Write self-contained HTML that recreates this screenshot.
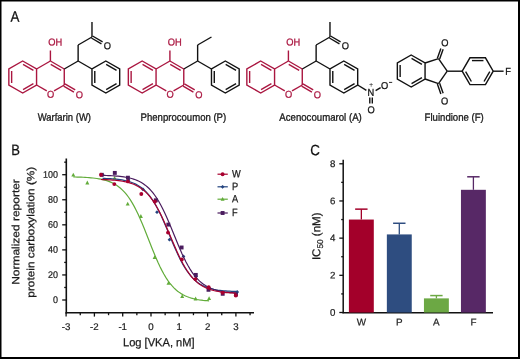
<!DOCTYPE html>
<html><head><meta charset="utf-8"><style>
html,body{margin:0;padding:0;background:#fff;width:520px;height:359px;overflow:hidden}
svg{display:block;transform:translateZ(0)}
text{font-family:"Liberation Sans", sans-serif;stroke-width:0.2px;paint-order:stroke}
</style></head><body>
<svg width="520" height="359" viewBox="0 0 520 359">

<rect x="0" y="0" width="1.5" height="359" fill="#000"/>
<rect x="0" y="0" width="520" height="1.5" fill="#000"/>
<rect x="518" y="0" width="2" height="359" fill="#000"/>
<rect x="0" y="357" width="520" height="2" fill="#000"/>
<text transform="translate(10.5,21.75) scale(0.88,1) rotate(0.05)" font-size="15.2" style="fill:#111;stroke:#111;stroke-width:0.25px">A</text>
<text transform="translate(11.2,155.1) scale(0.87,1) rotate(0.05)" font-size="15.0" style="fill:#111;stroke:#111;stroke-width:0.25px">B</text>
<text transform="translate(310.2,155.3) scale(0.89,1) rotate(0.05)" font-size="15.0" style="fill:#111;stroke:#111;stroke-width:0.25px">C</text>
<g stroke-linecap="butt">
<polygon points="22.70,61.00 36.56,69.00 36.56,85.00 22.70,93.00 8.84,85.00 8.84,69.00" fill="none" stroke="#aa1640" stroke-width="1.4" stroke-linejoin="miter"/>
<line x1="23.03" y1="64.42" x2="33.42" y2="70.42" stroke="#aa1640" stroke-width="1.4"/>
<line x1="11.64" y1="83.00" x2="11.64" y2="71.00" stroke="#aa1640" stroke-width="1.4"/>
<line x1="23.03" y1="89.58" x2="33.42" y2="83.58" stroke="#aa1640" stroke-width="1.4"/>
<line x1="36.56" y1="69.00" x2="50.41" y2="61.00" stroke="#aa1640" stroke-width="1.4"/>
<line x1="50.41" y1="61.00" x2="64.27" y2="69.00" stroke="#aa1640" stroke-width="1.4"/>
<line x1="50.74" y1="64.42" x2="61.14" y2="70.42" stroke="#aa1640" stroke-width="1.4"/>
<line x1="64.27" y1="69.00" x2="64.27" y2="85.00" stroke="#aa1640" stroke-width="1.4"/>
<line x1="64.27" y1="85.00" x2="54.05" y2="90.90" stroke="#aa1640" stroke-width="1.4"/>
<line x1="36.56" y1="85.00" x2="46.78" y2="90.90" stroke="#aa1640" stroke-width="1.4"/>
<line x1="50.41" y1="61.00" x2="50.41" y2="50.50" stroke="#aa1640" stroke-width="1.4"/>
<text transform="translate(55.11,42.10) scale(0.93,1) rotate(0.05)" x="-7.33" y="3.44" font-size="10.0" fill="#aa1640" stroke="#aa1640" style="stroke-width:0.3px">OH</text>
<text transform="translate(50.61,94.20) scale(0.93,1) rotate(0.05)" x="-3.89" y="3.44" font-size="10.0" fill="#aa1640" stroke="#aa1640" style="stroke-width:0.3px">O</text>
<line x1="63.62" y1="86.13" x2="73.92" y2="92.08" stroke="#aa1640" stroke-width="1.4"/>
<line x1="64.92" y1="83.87" x2="75.22" y2="89.82" stroke="#aa1640" stroke-width="1.4"/>
<text transform="translate(79.33,94.75) scale(0.93,1) rotate(0.05)" x="-3.89" y="3.44" font-size="10.0" fill="#aa1640" stroke="#aa1640" style="stroke-width:0.3px">O</text>
<line x1="64.27" y1="69.00" x2="78.13" y2="61.00" stroke="#111111" stroke-width="1.4"/>
<line x1="78.13" y1="61.00" x2="91.98" y2="69.00" stroke="#111111" stroke-width="1.4"/>
<polygon points="105.84,61.00 119.69,69.00 119.69,85.00 105.84,93.00 91.98,85.00 91.98,69.00" fill="none" stroke="#111111" stroke-width="1.4" stroke-linejoin="miter"/>
<line x1="106.17" y1="64.42" x2="116.56" y2="70.42" stroke="#111111" stroke-width="1.4"/>
<line x1="94.78" y1="83.00" x2="94.78" y2="71.00" stroke="#111111" stroke-width="1.4"/>
<line x1="106.17" y1="89.58" x2="116.56" y2="83.58" stroke="#111111" stroke-width="1.4"/>
<line x1="78.13" y1="61.00" x2="78.13" y2="45.00" stroke="#111111" stroke-width="1.4"/>
<line x1="78.13" y1="45.00" x2="91.98" y2="37.00" stroke="#111111" stroke-width="1.4"/>
<line x1="91.98" y1="37.00" x2="91.98" y2="22.00" stroke="#111111" stroke-width="1.4"/>
<line x1="91.41" y1="38.00" x2="101.45" y2="43.80" stroke="#111111" stroke-width="1.4"/>
<line x1="92.56" y1="36.00" x2="102.60" y2="41.80" stroke="#111111" stroke-width="1.4"/>
<text transform="translate(107.44,45.75) scale(0.93,1) rotate(0.05)" x="-3.89" y="3.44" font-size="10.0" fill="#111111" stroke="#111111" style="stroke-width:0.3px">O</text>
<polygon points="142.20,61.00 156.06,69.00 156.06,85.00 142.20,93.00 128.34,85.00 128.34,69.00" fill="none" stroke="#aa1640" stroke-width="1.4" stroke-linejoin="miter"/>
<line x1="142.53" y1="64.42" x2="152.92" y2="70.42" stroke="#aa1640" stroke-width="1.4"/>
<line x1="131.14" y1="83.00" x2="131.14" y2="71.00" stroke="#aa1640" stroke-width="1.4"/>
<line x1="142.53" y1="89.58" x2="152.92" y2="83.58" stroke="#aa1640" stroke-width="1.4"/>
<line x1="156.06" y1="69.00" x2="169.91" y2="61.00" stroke="#aa1640" stroke-width="1.4"/>
<line x1="169.91" y1="61.00" x2="183.77" y2="69.00" stroke="#aa1640" stroke-width="1.4"/>
<line x1="170.24" y1="64.42" x2="180.64" y2="70.42" stroke="#aa1640" stroke-width="1.4"/>
<line x1="183.77" y1="69.00" x2="183.77" y2="85.00" stroke="#aa1640" stroke-width="1.4"/>
<line x1="183.77" y1="85.00" x2="173.55" y2="90.90" stroke="#aa1640" stroke-width="1.4"/>
<line x1="156.06" y1="85.00" x2="166.28" y2="90.90" stroke="#aa1640" stroke-width="1.4"/>
<line x1="169.91" y1="61.00" x2="169.91" y2="50.50" stroke="#aa1640" stroke-width="1.4"/>
<text transform="translate(174.61,42.10) scale(0.93,1) rotate(0.05)" x="-7.33" y="3.44" font-size="10.0" fill="#aa1640" stroke="#aa1640" style="stroke-width:0.3px">OH</text>
<text transform="translate(170.11,94.20) scale(0.93,1) rotate(0.05)" x="-3.89" y="3.44" font-size="10.0" fill="#aa1640" stroke="#aa1640" style="stroke-width:0.3px">O</text>
<line x1="183.12" y1="86.13" x2="193.42" y2="92.08" stroke="#aa1640" stroke-width="1.4"/>
<line x1="184.42" y1="83.87" x2="194.72" y2="89.82" stroke="#aa1640" stroke-width="1.4"/>
<text transform="translate(198.83,94.75) scale(0.93,1) rotate(0.05)" x="-3.89" y="3.44" font-size="10.0" fill="#aa1640" stroke="#aa1640" style="stroke-width:0.3px">O</text>
<line x1="183.77" y1="69.00" x2="197.63" y2="61.00" stroke="#111111" stroke-width="1.4"/>
<line x1="197.63" y1="61.00" x2="211.48" y2="69.00" stroke="#111111" stroke-width="1.4"/>
<polygon points="225.34,61.00 239.19,69.00 239.19,85.00 225.34,93.00 211.48,85.00 211.48,69.00" fill="none" stroke="#111111" stroke-width="1.4" stroke-linejoin="miter"/>
<line x1="225.67" y1="64.42" x2="236.06" y2="70.42" stroke="#111111" stroke-width="1.4"/>
<line x1="214.28" y1="83.00" x2="214.28" y2="71.00" stroke="#111111" stroke-width="1.4"/>
<line x1="225.67" y1="89.58" x2="236.06" y2="83.58" stroke="#111111" stroke-width="1.4"/>
<line x1="197.63" y1="61.00" x2="197.63" y2="45.00" stroke="#111111" stroke-width="1.4"/>
<line x1="197.63" y1="45.00" x2="211.48" y2="37.00" stroke="#111111" stroke-width="1.4"/>
<polygon points="260.70,61.00 274.56,69.00 274.56,85.00 260.70,93.00 246.84,85.00 246.84,69.00" fill="none" stroke="#aa1640" stroke-width="1.4" stroke-linejoin="miter"/>
<line x1="261.03" y1="64.42" x2="271.42" y2="70.42" stroke="#aa1640" stroke-width="1.4"/>
<line x1="249.64" y1="83.00" x2="249.64" y2="71.00" stroke="#aa1640" stroke-width="1.4"/>
<line x1="261.03" y1="89.58" x2="271.42" y2="83.58" stroke="#aa1640" stroke-width="1.4"/>
<line x1="274.56" y1="69.00" x2="288.41" y2="61.00" stroke="#aa1640" stroke-width="1.4"/>
<line x1="288.41" y1="61.00" x2="302.27" y2="69.00" stroke="#aa1640" stroke-width="1.4"/>
<line x1="288.74" y1="64.42" x2="299.14" y2="70.42" stroke="#aa1640" stroke-width="1.4"/>
<line x1="302.27" y1="69.00" x2="302.27" y2="85.00" stroke="#aa1640" stroke-width="1.4"/>
<line x1="302.27" y1="85.00" x2="292.05" y2="90.90" stroke="#aa1640" stroke-width="1.4"/>
<line x1="274.56" y1="85.00" x2="284.78" y2="90.90" stroke="#aa1640" stroke-width="1.4"/>
<line x1="288.41" y1="61.00" x2="288.41" y2="50.50" stroke="#aa1640" stroke-width="1.4"/>
<text transform="translate(293.11,42.10) scale(0.93,1) rotate(0.05)" x="-7.33" y="3.44" font-size="10.0" fill="#aa1640" stroke="#aa1640" style="stroke-width:0.3px">OH</text>
<text transform="translate(288.61,94.20) scale(0.93,1) rotate(0.05)" x="-3.89" y="3.44" font-size="10.0" fill="#aa1640" stroke="#aa1640" style="stroke-width:0.3px">O</text>
<line x1="301.62" y1="86.13" x2="311.92" y2="92.08" stroke="#aa1640" stroke-width="1.4"/>
<line x1="302.92" y1="83.87" x2="313.22" y2="89.82" stroke="#aa1640" stroke-width="1.4"/>
<text transform="translate(317.33,94.75) scale(0.93,1) rotate(0.05)" x="-3.89" y="3.44" font-size="10.0" fill="#aa1640" stroke="#aa1640" style="stroke-width:0.3px">O</text>
<line x1="302.27" y1="69.00" x2="316.13" y2="61.00" stroke="#111111" stroke-width="1.4"/>
<line x1="316.13" y1="61.00" x2="329.98" y2="69.00" stroke="#111111" stroke-width="1.4"/>
<polygon points="343.84,61.00 357.69,69.00 357.69,85.00 343.84,93.00 329.98,85.00 329.98,69.00" fill="none" stroke="#111111" stroke-width="1.4" stroke-linejoin="miter"/>
<line x1="344.17" y1="64.42" x2="354.56" y2="70.42" stroke="#111111" stroke-width="1.4"/>
<line x1="332.78" y1="83.00" x2="332.78" y2="71.00" stroke="#111111" stroke-width="1.4"/>
<line x1="344.17" y1="89.58" x2="354.56" y2="83.58" stroke="#111111" stroke-width="1.4"/>
<line x1="316.13" y1="61.00" x2="316.13" y2="45.00" stroke="#111111" stroke-width="1.4"/>
<line x1="316.13" y1="45.00" x2="329.98" y2="37.00" stroke="#111111" stroke-width="1.4"/>
<line x1="329.98" y1="37.00" x2="329.98" y2="22.00" stroke="#111111" stroke-width="1.4"/>
<line x1="329.41" y1="38.00" x2="339.45" y2="43.80" stroke="#111111" stroke-width="1.4"/>
<line x1="330.56" y1="36.00" x2="340.60" y2="41.80" stroke="#111111" stroke-width="1.4"/>
<text transform="translate(345.44,45.75) scale(0.93,1) rotate(0.05)" x="-3.89" y="3.44" font-size="10.0" fill="#111111" stroke="#111111" style="stroke-width:0.3px">O</text>
<line x1="357.69" y1="85.00" x2="366.40" y2="90.30" stroke="#111111" stroke-width="1.4"/>
<text transform="translate(370.90,92.20) scale(0.93,1) rotate(0.05)" x="-3.61" y="3.44" font-size="10.0" fill="#111111" stroke="#111111" style="stroke-width:0.3px">N</text>
<text transform="translate(371.10,84.90) scale(1,1) rotate(0.05)" x="-2.10" y="2.39" font-size="7.2" fill="#111111" stroke="#111111" style="stroke-width:0">+</text>
<line x1="375.60" y1="90.70" x2="380.60" y2="87.60" stroke="#111111" stroke-width="1.4"/>
<text transform="translate(384.60,85.50) scale(0.93,1) rotate(0.05)" x="-3.89" y="3.44" font-size="10.0" fill="#111111" stroke="#111111" style="stroke-width:0.3px">O</text>
<line x1="389.00" y1="82.40" x2="392.20" y2="82.40" stroke="#111111" stroke-width="0.9"/>
<line x1="369.80" y1="97.50" x2="369.80" y2="103.60" stroke="#111111" stroke-width="1.4"/>
<line x1="372.30" y1="97.50" x2="372.30" y2="103.60" stroke="#111111" stroke-width="1.4"/>
<text transform="translate(371.05,109.70) scale(0.93,1) rotate(0.05)" x="-3.89" y="3.44" font-size="10.0" fill="#111111" stroke="#111111" style="stroke-width:0.3px">O</text>
<polygon points="411.20,55.00 425.06,63.00 425.06,79.00 411.20,87.00 397.34,79.00 397.34,63.00" fill="none" stroke="#111111" stroke-width="1.4" stroke-linejoin="miter"/>
<line x1="411.53" y1="58.42" x2="421.92" y2="64.42" stroke="#111111" stroke-width="1.4"/>
<line x1="400.14" y1="77.00" x2="400.14" y2="65.00" stroke="#111111" stroke-width="1.4"/>
<line x1="411.53" y1="83.58" x2="421.92" y2="77.58" stroke="#111111" stroke-width="1.4"/>
<line x1="425.06" y1="63.00" x2="438.50" y2="58.60" stroke="#111111" stroke-width="1.4"/>
<line x1="438.50" y1="58.60" x2="447.20" y2="71.20" stroke="#111111" stroke-width="1.4"/>
<line x1="447.20" y1="71.20" x2="438.50" y2="83.60" stroke="#111111" stroke-width="1.4"/>
<line x1="438.50" y1="83.60" x2="425.06" y2="79.00" stroke="#111111" stroke-width="1.4"/>
<line x1="439.63" y1="59.00" x2="443.13" y2="49.20" stroke="#111111" stroke-width="1.4"/>
<line x1="437.37" y1="58.20" x2="440.87" y2="48.40" stroke="#111111" stroke-width="1.4"/>
<line x1="437.37" y1="84.00" x2="440.87" y2="94.00" stroke="#111111" stroke-width="1.4"/>
<line x1="439.63" y1="83.20" x2="443.13" y2="93.20" stroke="#111111" stroke-width="1.4"/>
<text transform="translate(444.90,42.85) scale(0.93,1) rotate(0.05)" x="-3.89" y="3.44" font-size="10.0" fill="#111111" stroke="#111111" style="stroke-width:0.3px">O</text>
<text transform="translate(444.70,101.00) scale(0.93,1) rotate(0.05)" x="-3.89" y="3.44" font-size="10.0" fill="#111111" stroke="#111111" style="stroke-width:0.3px">O</text>
<line x1="447.20" y1="71.20" x2="462.20" y2="71.20" stroke="#111111" stroke-width="1.4"/>
<polygon points="462.20,71.20 469.95,57.78 485.45,57.78 493.20,71.20 485.45,84.62 469.95,84.62" fill="none" stroke="#111111" stroke-width="1.4" stroke-linejoin="miter"/>
<line x1="471.95" y1="60.58" x2="483.45" y2="60.58" stroke="#111111" stroke-width="1.4"/>
<line x1="465.62" y1="71.53" x2="471.37" y2="81.49" stroke="#111111" stroke-width="1.4"/>
<line x1="489.78" y1="71.53" x2="484.03" y2="81.49" stroke="#111111" stroke-width="1.4"/>
<line x1="493.20" y1="71.20" x2="503.60" y2="71.20" stroke="#111111" stroke-width="1.4"/>
<text transform="translate(508.30,71.30) scale(0.93,1) rotate(0.05)" x="-3.26" y="3.44" font-size="10.0" fill="#111111" stroke="#111111" style="stroke-width:0.3px">F</text>
<text x="37.70" y="120.7" font-size="10.6" fill="#1a1a1a" stroke="#1a1a1a" style="stroke-width:0.32px" textLength="53.30" lengthAdjust="spacingAndGlyphs" transform="rotate(0.05 37.70 120.7)">Warfarin (W)</text>
<text x="140.60" y="120.7" font-size="10.6" fill="#1a1a1a" stroke="#1a1a1a" style="stroke-width:0.32px" textLength="85.60" lengthAdjust="spacingAndGlyphs" transform="rotate(0.05 140.60 120.7)">Phenprocoumon (P)</text>
<text x="279.30" y="120.7" font-size="10.6" fill="#1a1a1a" stroke="#1a1a1a" style="stroke-width:0.32px" textLength="82.50" lengthAdjust="spacingAndGlyphs" transform="rotate(0.05 279.30 120.7)">Acenocoumarol (A)</text>
<text x="424.60" y="120.7" font-size="10.6" fill="#1a1a1a" stroke="#1a1a1a" style="stroke-width:0.32px" textLength="59.20" lengthAdjust="spacingAndGlyphs" transform="rotate(0.05 424.60 120.7)">Fluindione (F)</text>
</g>
<line x1="66.30" y1="158.50" x2="66.30" y2="313.50" stroke="#111" stroke-width="1.6"/>
<line x1="65.50" y1="312.80" x2="254.00" y2="312.80" stroke="#111" stroke-width="1.6"/>
<line x1="62.20" y1="300.00" x2="66.30" y2="300.00" stroke="#111" stroke-width="1.3"/>
<line x1="64.20" y1="287.47" x2="66.30" y2="287.47" stroke="#111" stroke-width="1.3"/>
<line x1="62.20" y1="274.94" x2="66.30" y2="274.94" stroke="#111" stroke-width="1.3"/>
<line x1="64.20" y1="262.41" x2="66.30" y2="262.41" stroke="#111" stroke-width="1.3"/>
<line x1="62.20" y1="249.88" x2="66.30" y2="249.88" stroke="#111" stroke-width="1.3"/>
<line x1="64.20" y1="237.35" x2="66.30" y2="237.35" stroke="#111" stroke-width="1.3"/>
<line x1="62.20" y1="224.82" x2="66.30" y2="224.82" stroke="#111" stroke-width="1.3"/>
<line x1="64.20" y1="212.29" x2="66.30" y2="212.29" stroke="#111" stroke-width="1.3"/>
<line x1="62.20" y1="199.76" x2="66.30" y2="199.76" stroke="#111" stroke-width="1.3"/>
<line x1="64.20" y1="187.23" x2="66.30" y2="187.23" stroke="#111" stroke-width="1.3"/>
<line x1="62.20" y1="174.70" x2="66.30" y2="174.70" stroke="#111" stroke-width="1.3"/>
<line x1="64.20" y1="162.17" x2="66.30" y2="162.17" stroke="#111" stroke-width="1.3"/>
<line x1="66.10" y1="312.80" x2="66.10" y2="316.60" stroke="#111" stroke-width="1.3"/>
<line x1="80.25" y1="312.80" x2="80.25" y2="315.20" stroke="#111" stroke-width="1.3"/>
<line x1="94.40" y1="312.80" x2="94.40" y2="316.60" stroke="#111" stroke-width="1.3"/>
<line x1="108.55" y1="312.80" x2="108.55" y2="315.20" stroke="#111" stroke-width="1.3"/>
<line x1="122.70" y1="312.80" x2="122.70" y2="316.60" stroke="#111" stroke-width="1.3"/>
<line x1="136.85" y1="312.80" x2="136.85" y2="315.20" stroke="#111" stroke-width="1.3"/>
<line x1="151.00" y1="312.80" x2="151.00" y2="316.60" stroke="#111" stroke-width="1.3"/>
<line x1="165.15" y1="312.80" x2="165.15" y2="315.20" stroke="#111" stroke-width="1.3"/>
<line x1="179.30" y1="312.80" x2="179.30" y2="316.60" stroke="#111" stroke-width="1.3"/>
<line x1="193.45" y1="312.80" x2="193.45" y2="315.20" stroke="#111" stroke-width="1.3"/>
<line x1="207.60" y1="312.80" x2="207.60" y2="316.60" stroke="#111" stroke-width="1.3"/>
<line x1="221.75" y1="312.80" x2="221.75" y2="315.20" stroke="#111" stroke-width="1.3"/>
<line x1="235.90" y1="312.80" x2="235.90" y2="316.60" stroke="#111" stroke-width="1.3"/>
<line x1="250.05" y1="312.80" x2="250.05" y2="315.20" stroke="#111" stroke-width="1.3"/>
<text x="58.0" y="303.00" font-size="9.6" fill="#222" stroke="#222" text-anchor="end" textLength="4.98" lengthAdjust="spacingAndGlyphs" style="stroke-width:0.22px" transform="rotate(0.05 58.0 303.00)">0</text>
<text x="58.0" y="277.94" font-size="9.6" fill="#222" stroke="#222" text-anchor="end" textLength="9.96" lengthAdjust="spacingAndGlyphs" style="stroke-width:0.22px" transform="rotate(0.05 58.0 277.94)">20</text>
<text x="58.0" y="252.88" font-size="9.6" fill="#222" stroke="#222" text-anchor="end" textLength="9.96" lengthAdjust="spacingAndGlyphs" style="stroke-width:0.22px" transform="rotate(0.05 58.0 252.88)">40</text>
<text x="58.0" y="227.82" font-size="9.6" fill="#222" stroke="#222" text-anchor="end" textLength="9.96" lengthAdjust="spacingAndGlyphs" style="stroke-width:0.22px" transform="rotate(0.05 58.0 227.82)">60</text>
<text x="58.0" y="202.76" font-size="9.6" fill="#222" stroke="#222" text-anchor="end" textLength="9.96" lengthAdjust="spacingAndGlyphs" style="stroke-width:0.22px" transform="rotate(0.05 58.0 202.76)">80</text>
<text x="58.0" y="177.70" font-size="9.6" fill="#222" stroke="#222" text-anchor="end" textLength="14.94" lengthAdjust="spacingAndGlyphs" style="stroke-width:0.22px" transform="rotate(0.05 58.0 177.70)">100</text>
<text x="66.10" y="330.0" font-size="9.7" fill="#222" stroke="#222" text-anchor="middle" style="stroke-width:0.22px" transform="rotate(0.05 66.10 330.0)">-3</text>
<text x="94.40" y="330.0" font-size="9.7" fill="#222" stroke="#222" text-anchor="middle" style="stroke-width:0.22px" transform="rotate(0.05 94.40 330.0)">-2</text>
<text x="122.70" y="330.0" font-size="9.7" fill="#222" stroke="#222" text-anchor="middle" style="stroke-width:0.22px" transform="rotate(0.05 122.70 330.0)">-1</text>
<text x="151.00" y="330.0" font-size="9.7" fill="#222" stroke="#222" text-anchor="middle" style="stroke-width:0.22px" transform="rotate(0.05 151.00 330.0)">0</text>
<text x="179.30" y="330.0" font-size="9.7" fill="#222" stroke="#222" text-anchor="middle" style="stroke-width:0.22px" transform="rotate(0.05 179.30 330.0)">1</text>
<text x="207.60" y="330.0" font-size="9.7" fill="#222" stroke="#222" text-anchor="middle" style="stroke-width:0.22px" transform="rotate(0.05 207.60 330.0)">2</text>
<text x="235.90" y="330.0" font-size="9.7" fill="#222" stroke="#222" text-anchor="middle" style="stroke-width:0.22px" transform="rotate(0.05 235.90 330.0)">3</text>
<text x="123" y="346.2" font-size="11.6" fill="#1a1a1a" stroke="#1a1a1a" style="stroke-width:0.25px" textLength="71.6" lengthAdjust="spacingAndGlyphs" transform="rotate(0.05 123 346.2)">Log [VKA, nM]</text>
<text transform="translate(19.3,232) rotate(-90) rotate(0.05)" x="0" y="0" font-size="10.5" fill="#1a1a1a" stroke="#1a1a1a" text-anchor="middle" style="stroke-width:0.25px" textLength="105.7" lengthAdjust="spacingAndGlyphs">Normalized reporter</text>
<text transform="translate(34.2,232.2) rotate(-90) rotate(0.05)" x="0" y="0" font-size="10.5" fill="#1a1a1a" stroke="#1a1a1a" text-anchor="middle" style="stroke-width:0.25px" textLength="131" lengthAdjust="spacingAndGlyphs">protein carboxylation (%)</text>
<polyline points="73.30,176.94 75.27,176.99 77.24,177.04 79.20,177.10 81.17,177.18 83.14,177.27 85.11,177.37 87.08,177.49 89.04,177.64 91.01,177.80 92.98,178.00 94.95,178.23 96.92,178.50 98.89,178.81 100.85,179.18 102.82,179.60 104.79,180.10 106.76,180.68 108.73,181.35 110.69,182.13 112.66,183.04 114.63,184.08 116.60,185.29 118.57,186.67 120.53,188.25 122.50,190.06 124.47,192.10 126.44,194.41 128.41,197.01 130.38,199.89 132.34,203.09 134.31,206.60 136.28,210.41 138.25,214.51 140.22,218.89 142.18,223.49 144.15,228.29 146.12,233.23 148.09,238.24 150.06,243.26 152.02,248.23 153.99,253.08 155.96,257.77 157.93,262.24 159.90,266.45 161.87,270.38 163.83,274.01 165.80,277.32 167.77,280.33 169.74,283.04 171.71,285.45 173.67,287.60 175.64,289.50 177.61,291.16 179.58,292.62 181.55,293.89 183.51,294.99 185.48,295.95 187.45,296.78 189.42,297.49 191.39,298.11 193.36,298.63 195.32,299.09 197.29,299.48 199.26,299.81 201.23,300.09 203.20,300.34 205.16,300.54 207.13,300.72 209.10,300.87" fill="none" stroke="#62ac3a" stroke-width="1.2"/>
<polygon points="73.30,172.80 75.30,176.60 71.30,176.60" fill="#62ac3a"/>
<polygon points="87.30,180.60 89.30,184.40 85.30,184.40" fill="#62ac3a"/>
<polygon points="114.60,176.00 116.60,179.80 112.60,179.80" fill="#62ac3a"/>
<polygon points="127.70,201.80 129.70,205.60 125.70,205.60" fill="#62ac3a"/>
<polygon points="140.90,214.10 142.90,217.90 138.90,217.90" fill="#62ac3a"/>
<polygon points="154.60,255.30 156.60,259.10 152.60,259.10" fill="#62ac3a"/>
<polygon points="168.50,281.00 170.50,284.80 166.50,284.80" fill="#62ac3a"/>
<polygon points="182.20,294.30 184.20,298.10 180.20,298.10" fill="#62ac3a"/>
<polygon points="195.60,296.60 197.60,300.40 193.60,300.40" fill="#62ac3a"/>
<polygon points="209.10,296.20 211.10,300.00 207.10,300.00" fill="#62ac3a"/>
<polyline points="102.50,178.34 104.46,178.40 106.41,178.49 108.37,178.58 110.33,178.70 112.28,178.83 114.24,178.99 116.20,179.18 118.15,179.39 120.11,179.65 122.07,179.95 124.02,180.31 125.98,180.73 127.93,181.21 129.89,181.78 131.85,182.45 133.80,183.23 135.76,184.13 137.72,185.18 139.67,186.39 141.63,187.78 143.59,189.38 145.54,191.21 147.50,193.28 149.46,195.63 151.41,198.26 153.37,201.18 155.33,204.41 157.28,207.93 159.24,211.75 161.20,215.83 163.15,220.15 165.11,224.65 167.07,229.29 169.02,234.01 170.98,238.74 172.93,243.42 174.89,247.98 176.85,252.37 178.80,256.54 180.76,260.46 182.72,264.10 184.67,267.44 186.63,270.48 188.59,273.22 190.54,275.67 192.50,277.84 194.46,279.76 196.41,281.44 198.37,282.91 200.33,284.19 202.28,285.30 204.24,286.25 206.20,287.07 208.15,287.78 210.11,288.38 212.07,288.90 214.02,289.34 215.98,289.72 217.93,290.04 219.89,290.31 221.85,290.55 223.80,290.74 225.76,290.91 227.72,291.06 229.67,291.18 231.63,291.28 233.59,291.37 235.54,291.44 237.50,291.50" fill="none" stroke="#24447f" stroke-width="1.2"/>
<polygon points="102.50,172.90 104.40,174.80 102.50,176.70 100.60,174.80" fill="#24447f"/>
<polygon points="128.50,178.10 130.40,180.00 128.50,181.90 126.60,180.00" fill="#24447f"/>
<polygon points="143.00,187.50 144.90,189.40 143.00,191.30 141.10,189.40" fill="#24447f"/>
<polygon points="157.00,210.30 158.90,212.20 157.00,214.10 155.10,212.20" fill="#24447f"/>
<polygon points="169.50,237.80 171.40,239.70 169.50,241.60 167.60,239.70" fill="#24447f"/>
<polygon points="183.50,254.50 185.40,256.40 183.50,258.30 181.60,256.40" fill="#24447f"/>
<polygon points="196.00,274.60 197.90,276.50 196.00,278.40 194.10,276.50" fill="#24447f"/>
<polygon points="208.80,286.40 210.70,288.30 208.80,290.20 206.90,288.30" fill="#24447f"/>
<polygon points="222.70,290.10 224.60,292.00 222.70,293.90 220.80,292.00" fill="#24447f"/>
<polygon points="237.20,290.10 239.10,292.00 237.20,293.90 235.30,292.00" fill="#24447f"/>
<polyline points="102.50,175.38 104.44,175.43 106.38,175.50 108.33,175.57 110.27,175.66 112.21,175.77 114.15,175.89 116.09,176.03 118.04,176.20 119.98,176.40 121.92,176.63 123.86,176.90 125.80,177.22 127.75,177.59 129.69,178.02 131.63,178.52 133.57,179.11 135.51,179.79 137.46,180.58 139.40,181.49 141.34,182.54 143.28,183.76 145.22,185.15 147.17,186.74 149.11,188.55 151.05,190.60 152.99,192.91 154.93,195.49 156.88,198.36 158.82,201.53 160.76,204.99 162.70,208.73 164.64,212.75 166.59,217.01 168.53,221.47 170.47,226.10 172.41,230.82 174.36,235.60 176.30,240.35 178.24,245.03 180.18,249.58 182.12,253.94 184.07,258.07 186.01,261.95 187.95,265.55 189.89,268.85 191.83,271.86 193.78,274.58 195.72,277.01 197.66,279.18 199.60,281.10 201.54,282.79 203.49,284.27 205.43,285.57 207.37,286.69 209.31,287.67 211.25,288.52 213.20,289.25 215.14,289.87 217.08,290.41 219.02,290.88 220.96,291.27 222.91,291.61 224.85,291.91 226.79,292.15 228.73,292.37 230.67,292.55 232.62,292.70 234.56,292.84 236.50,292.95" fill="none" stroke="#4a1c5e" stroke-width="1.2"/>
<rect x="99.85" y="172.85" width="3.9" height="3.9" fill="#4a1c5e"/>
<rect x="112.85" y="170.95" width="3.9" height="3.9" fill="#4a1c5e"/>
<rect x="125.95" y="175.75" width="3.9" height="3.9" fill="#4a1c5e"/>
<rect x="153.85" y="198.35" width="3.9" height="3.9" fill="#4a1c5e"/>
<rect x="166.35" y="222.65" width="3.9" height="3.9" fill="#4a1c5e"/>
<rect x="179.65" y="245.55" width="3.9" height="3.9" fill="#4a1c5e"/>
<rect x="193.85" y="272.95" width="3.9" height="3.9" fill="#4a1c5e"/>
<rect x="206.55" y="287.85" width="3.9" height="3.9" fill="#4a1c5e"/>
<rect x="220.75" y="291.85" width="3.9" height="3.9" fill="#4a1c5e"/>
<rect x="234.05" y="292.55" width="3.9" height="3.9" fill="#4a1c5e"/>
<polyline points="101.00,179.49 102.96,179.55 104.91,179.62 106.87,179.71 108.83,179.81 110.78,179.93 112.74,180.07 114.70,180.24 116.65,180.43 118.61,180.66 120.57,180.92 122.52,181.23 124.48,181.59 126.43,182.02 128.39,182.51 130.35,183.09 132.30,183.76 134.26,184.53 136.22,185.43 138.17,186.47 140.13,187.67 142.09,189.05 144.04,190.62 146.00,192.41 147.96,194.44 149.91,196.72 151.87,199.28 153.83,202.12 155.78,205.25 157.74,208.67 159.70,212.36 161.65,216.32 163.61,220.51 165.57,224.89 167.52,229.41 169.48,234.03 171.43,238.68 173.39,243.29 175.35,247.82 177.30,252.20 179.26,256.39 181.22,260.35 183.17,264.05 185.13,267.47 187.09,270.61 189.04,273.45 191.00,276.01 192.96,278.30 194.91,280.33 196.87,282.13 198.83,283.70 200.78,285.08 202.74,286.28 204.70,287.32 206.65,288.23 208.61,289.00 210.57,289.67 212.52,290.25 214.48,290.75 216.43,291.17 218.39,291.53 220.35,291.85 222.30,292.11 224.26,292.34 226.22,292.53 228.17,292.70 230.13,292.84 232.09,292.96 234.04,293.06 236.00,293.14" fill="none" stroke="#a8002f" stroke-width="1.2"/>
<circle cx="101.00" cy="174.80" r="1.95" fill="#a8002f"/>
<circle cx="114.30" cy="184.10" r="1.95" fill="#a8002f"/>
<circle cx="127.90" cy="181.40" r="1.95" fill="#a8002f"/>
<circle cx="141.30" cy="194.00" r="1.95" fill="#a8002f"/>
<circle cx="154.90" cy="201.50" r="1.95" fill="#a8002f"/>
<circle cx="168.00" cy="232.60" r="1.95" fill="#a8002f"/>
<circle cx="181.80" cy="259.40" r="1.95" fill="#a8002f"/>
<circle cx="195.40" cy="279.10" r="1.95" fill="#a8002f"/>
<circle cx="208.70" cy="287.30" r="1.95" fill="#a8002f"/>
<circle cx="222.60" cy="292.80" r="1.95" fill="#a8002f"/>
<circle cx="235.80" cy="295.50" r="1.95" fill="#a8002f"/>
<line x1="217.50" y1="174.20" x2="227.80" y2="174.20" stroke="#a8002f" stroke-width="1.2"/>
<circle cx="222.60" cy="174.20" r="1.95" fill="#a8002f"/>
<text transform="translate(231.9,177.30) scale(0.88,1) rotate(0.05)" font-size="10.5" fill="#1a1a1a" stroke="#1a1a1a" style="stroke-width:0.25px">W</text>
<line x1="217.50" y1="186.80" x2="227.80" y2="186.80" stroke="#24447f" stroke-width="1.2"/>
<polygon points="222.60,184.90 224.50,186.80 222.60,188.70 220.70,186.80" fill="#24447f"/>
<text transform="translate(231.9,189.90) scale(0.88,1) rotate(0.05)" font-size="10.5" fill="#1a1a1a" stroke="#1a1a1a" style="stroke-width:0.25px">P</text>
<line x1="217.50" y1="199.20" x2="227.80" y2="199.20" stroke="#62ac3a" stroke-width="1.2"/>
<polygon points="222.60,197.00 224.60,200.80 220.60,200.80" fill="#62ac3a"/>
<text transform="translate(231.9,202.30) scale(0.88,1) rotate(0.05)" font-size="10.5" fill="#1a1a1a" stroke="#1a1a1a" style="stroke-width:0.25px">A</text>
<line x1="217.50" y1="213.00" x2="227.80" y2="213.00" stroke="#4a1c5e" stroke-width="1.2"/>
<rect x="220.65" y="211.05" width="3.9" height="3.9" fill="#4a1c5e"/>
<text transform="translate(231.9,216.10) scale(0.88,1) rotate(0.05)" font-size="10.5" fill="#1a1a1a" stroke="#1a1a1a" style="stroke-width:0.25px">F</text>
<line x1="343.20" y1="159.80" x2="343.20" y2="313.20" stroke="#111" stroke-width="1.5"/>
<line x1="342.40" y1="312.80" x2="493.00" y2="312.80" stroke="#111" stroke-width="1.5"/>
<line x1="339.30" y1="312.50" x2="343.20" y2="312.50" stroke="#111" stroke-width="1.3"/>
<text x="335.4" y="315.70" font-size="9.7" fill="#222" stroke="#222" text-anchor="end" style="stroke-width:0.22px" transform="rotate(0.05 335.4 315.70)">0</text>
<line x1="341.20" y1="293.91" x2="343.20" y2="293.91" stroke="#111" stroke-width="1.3"/>
<line x1="339.30" y1="275.32" x2="343.20" y2="275.32" stroke="#111" stroke-width="1.3"/>
<text x="335.4" y="278.52" font-size="9.7" fill="#222" stroke="#222" text-anchor="end" style="stroke-width:0.22px" transform="rotate(0.05 335.4 278.52)">2</text>
<line x1="341.20" y1="256.73" x2="343.20" y2="256.73" stroke="#111" stroke-width="1.3"/>
<line x1="339.30" y1="238.14" x2="343.20" y2="238.14" stroke="#111" stroke-width="1.3"/>
<text x="335.4" y="241.34" font-size="9.7" fill="#222" stroke="#222" text-anchor="end" style="stroke-width:0.22px" transform="rotate(0.05 335.4 241.34)">4</text>
<line x1="341.20" y1="219.55" x2="343.20" y2="219.55" stroke="#111" stroke-width="1.3"/>
<line x1="339.30" y1="200.96" x2="343.20" y2="200.96" stroke="#111" stroke-width="1.3"/>
<text x="335.4" y="204.16" font-size="9.7" fill="#222" stroke="#222" text-anchor="end" style="stroke-width:0.22px" transform="rotate(0.05 335.4 204.16)">6</text>
<line x1="341.20" y1="182.37" x2="343.20" y2="182.37" stroke="#111" stroke-width="1.3"/>
<line x1="339.30" y1="163.78" x2="343.20" y2="163.78" stroke="#111" stroke-width="1.3"/>
<text x="335.4" y="166.98" font-size="9.7" fill="#222" stroke="#222" text-anchor="end" style="stroke-width:0.22px" transform="rotate(0.05 335.4 166.98)">8</text>
<rect x="348.90" y="219.55" width="24.9" height="92.95" fill="#a3002a"/>
<line x1="361.35" y1="219.55" x2="361.35" y2="209.14" stroke="#a3002a" stroke-width="1.3"/>
<line x1="355.15" y1="209.14" x2="367.55" y2="209.14" stroke="#a3002a" stroke-width="1.5"/>
<text x="361.35" y="325.4" font-size="9.9" fill="#222" stroke="#222" text-anchor="middle" style="stroke-width:0.22px" transform="rotate(0.05 361.35 325.4)">W</text>
<rect x="386.85" y="234.42" width="24.9" height="78.08" fill="#2e4d80"/>
<line x1="399.30" y1="234.42" x2="399.30" y2="223.27" stroke="#2e4d80" stroke-width="1.3"/>
<line x1="393.10" y1="223.27" x2="405.50" y2="223.27" stroke="#2e4d80" stroke-width="1.5"/>
<text x="399.30" y="325.4" font-size="9.9" fill="#222" stroke="#222" text-anchor="middle" style="stroke-width:0.22px" transform="rotate(0.05 399.30 325.4)">P</text>
<rect x="423.95" y="298.37" width="24.9" height="14.13" fill="#6ca844"/>
<line x1="436.40" y1="298.37" x2="436.40" y2="295.58" stroke="#6ca844" stroke-width="1.3"/>
<line x1="430.20" y1="295.58" x2="442.60" y2="295.58" stroke="#6ca844" stroke-width="1.5"/>
<text x="436.40" y="325.4" font-size="9.9" fill="#222" stroke="#222" text-anchor="middle" style="stroke-width:0.22px" transform="rotate(0.05 436.40 325.4)">A</text>
<rect x="460.95" y="189.81" width="24.9" height="122.69" fill="#572866"/>
<line x1="473.40" y1="189.81" x2="473.40" y2="176.79" stroke="#572866" stroke-width="1.3"/>
<line x1="467.20" y1="176.79" x2="479.60" y2="176.79" stroke="#572866" stroke-width="1.5"/>
<text x="473.40" y="325.4" font-size="9.9" fill="#222" stroke="#222" text-anchor="middle" style="stroke-width:0.22px" transform="rotate(0.05 473.40 325.4)">F</text>
<text transform="translate(320.2,236.3) rotate(-90) rotate(0.05)" font-size="11.5" fill="#1a1a1a" stroke="#1a1a1a" text-anchor="middle" style="stroke-width:0.22px">IC<tspan font-size="8.3" dy="2.7">50</tspan><tspan dy="-2.7"> (nM)</tspan></text>
</svg>
</body></html>
